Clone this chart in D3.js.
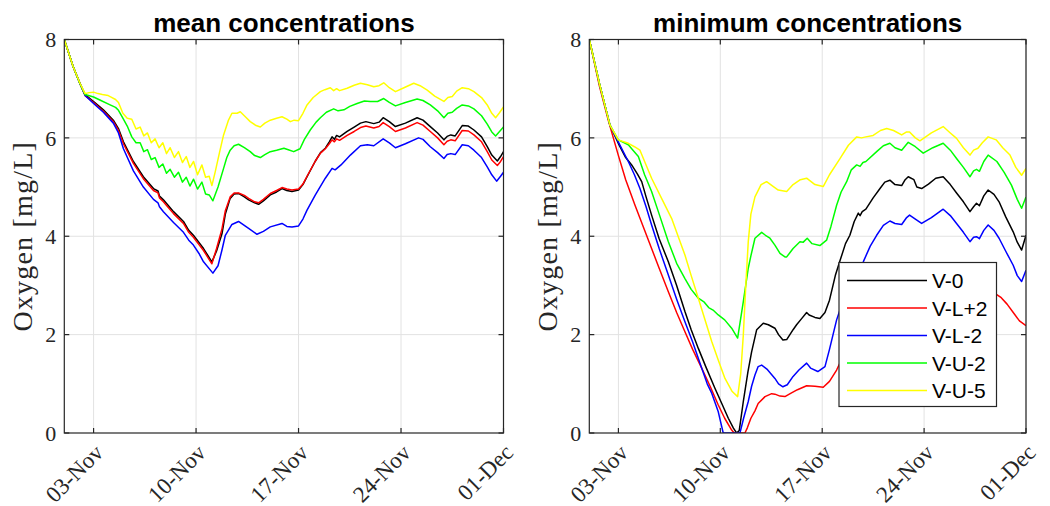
<!DOCTYPE html>
<html>
<head>
<meta charset="utf-8">
<script src="https://cdn.jsdelivr.net/npm/d3@7"></script>
<style>
  html, body { margin: 0; padding: 0; background: #fff; }
  svg { display: block; }
</style>
</head>
<body>
<svg id="chart" width="1050" height="506"></svg>
<script>
// Series as [day since 01-Nov 00:00, oxygen mg/L]
const seriesNames = ["V-0", "V-L+2", "V-L-2", "V-U-2", "V-U-5"];
const seriesColors = ["#000000", "#ff0000", "#0000ff", "#00ff00", "#ffff00"];
const yTicks = [0, 2, 4, 6, 8];
const xTickDays = [2, 9, 16, 23, 30];
const panelTitles = ["mean concentrations", "minimum concentrations"];

// ---- mean concentrations ----
const meanV0 = [[0,8],[0.6,7.45],[1.07,7.11],[1.42,6.88],[2.0,6.74],[2.67,6.57],[3.35,6.36],[3.7,6.19],[4.04,5.92],[4.72,5.52],[5.4,5.21],[6.09,4.97],[6.4,4.92],[6.5,4.82],[6.77,4.74],[7.0,4.66],[7.46,4.5],[8.14,4.3],[8.5,4.12],[8.82,4.02],[9.51,3.75],[10.08,3.48],[10.4,3.7],[10.77,4.05],[11.0,4.45],[11.33,4.77],[11.6,4.86],[11.9,4.87],[12.3,4.8],[12.59,4.74],[13.0,4.68],[13.27,4.65],[13.6,4.72],[14.07,4.84],[14.5,4.9],[14.87,4.97],[15.2,4.93],[15.55,4.91],[16.0,4.94],[16.3,5.05],[16.58,5.21],[17.15,5.53],[17.5,5.7],[17.83,5.79],[18.1,5.92],[18.29,6.02],[18.45,5.97],[18.6,6.05],[18.8,6.02],[19.32,6.13],[19.8,6.22],[20.23,6.3],[20.6,6.33],[21.14,6.29],[21.5,6.32],[21.78,6.41],[22.2,6.33],[22.62,6.23],[23.3,6.3],[24.1,6.41],[24.5,6.36],[25.0,6.23],[25.5,6.1],[25.93,5.96],[26.15,6.03],[26.4,6.06],[26.7,6.04],[27.18,6.25],[27.6,6.24],[27.98,6.16],[28.5,6.02],[28.89,5.82],[29.2,5.65],[29.58,5.53],[29.8,5.62],[30,5.72]];
const meanVL2p = [[0,8],[0.6,7.45],[1.07,7.1],[1.42,6.86],[2.0,6.72],[2.67,6.54],[3.35,6.33],[3.7,6.15],[4.04,5.88],[4.72,5.48],[5.4,5.17],[6.09,4.93],[6.4,4.88],[6.5,4.78],[6.77,4.7],[7.0,4.62],[7.46,4.46],[8.14,4.26],[8.5,4.08],[8.82,3.98],[9.51,3.71],[10.08,3.44],[10.4,3.75],[10.77,4.15],[11.0,4.52],[11.33,4.8],[11.6,4.88],[11.9,4.88],[12.3,4.83],[12.59,4.77],[13.0,4.7],[13.27,4.68],[13.6,4.75],[14.07,4.87],[14.5,4.93],[14.87,4.99],[15.2,4.96],[15.55,4.94],[16.0,4.96],[16.3,5.06],[16.58,5.22],[17.15,5.53],[17.5,5.69],[17.83,5.78],[18.1,5.88],[18.29,5.96],[18.45,5.92],[18.6,5.98],[18.8,5.95],[19.32,6.05],[19.8,6.13],[20.23,6.21],[20.6,6.24],[21.14,6.2],[21.5,6.23],[21.78,6.31],[22.2,6.23],[22.62,6.13],[23.3,6.2],[24.1,6.31],[24.5,6.26],[25.0,6.13],[25.5,6.0],[25.93,5.86],[26.15,5.93],[26.4,5.96],[26.7,5.94],[27.18,6.15],[27.6,6.14],[27.98,6.06],[28.5,5.92],[28.89,5.72],[29.2,5.55],[29.58,5.44],[29.8,5.52],[30,5.62]];
const meanVL2m = [[0,8],[0.6,7.45],[1.07,7.1],[1.42,6.86],[2.0,6.7],[2.67,6.52],[3.35,6.3],[3.7,6.1],[4.04,5.78],[4.72,5.33],[5.4,5.0],[6.09,4.75],[6.4,4.68],[6.5,4.6],[6.77,4.5],[7.46,4.28],[8.14,4.08],[8.5,3.92],[8.82,3.82],[9.2,3.65],[9.51,3.48],[10.15,3.25],[10.5,3.4],[10.77,3.72],[11.0,4.02],[11.45,4.24],[11.9,4.3],[12.59,4.16],[13.16,4.04],[13.6,4.1],[14.07,4.19],[14.87,4.26],[15.2,4.2],[15.55,4.19],[16.0,4.21],[16.3,4.35],[16.58,4.53],[17.15,4.84],[17.83,5.18],[18.29,5.38],[18.5,5.35],[18.9,5.45],[19.54,5.65],[20.23,5.84],[20.7,5.86],[21.14,5.84],[21.78,5.98],[22.2,5.9],[22.62,5.8],[23.3,5.88],[24.2,6.0],[24.5,5.97],[25.0,5.82],[25.5,5.7],[25.93,5.58],[26.15,5.66],[26.4,5.68],[26.7,5.66],[27.18,5.86],[27.6,5.84],[27.98,5.75],[28.5,5.6],[28.89,5.41],[29.2,5.25],[29.53,5.12],[29.8,5.22],[30,5.3]];
const meanVU2 = [[0,8],[0.6,7.45],[1.07,7.1],[1.42,6.88],[2.0,6.83],[2.5,6.76],[3.13,6.67],[3.5,6.62],[3.7,6.56],[4.0,6.4],[4.3,6.24],[4.61,6.02],[4.9,5.9],[5.18,5.9],[5.43,5.72],[5.68,5.76],[5.94,5.56],[6.2,5.6],[6.47,5.4],[6.73,5.47],[6.98,5.28],[7.23,5.36],[7.52,5.2],[7.8,5.3],[8.07,5.1],[8.33,5.2],[8.58,5.02],[8.83,5.16],[9.1,4.96],[9.4,5.1],[9.65,4.86],[9.9,4.84],[10.15,4.72],[10.5,5.0],[10.88,5.38],[11.1,5.6],[11.33,5.75],[11.6,5.84],[11.9,5.87],[12.3,5.8],[12.7,5.72],[13.0,5.64],[13.39,5.6],[13.7,5.66],[14.07,5.72],[14.5,5.75],[15.0,5.79],[15.3,5.76],[15.67,5.72],[16.1,5.78],[16.4,5.97],[16.8,6.16],[17.2,6.32],[17.49,6.41],[17.9,6.52],[18.4,6.59],[18.7,6.55],[19.1,6.57],[19.5,6.64],[20.0,6.7],[20.5,6.75],[20.9,6.74],[21.4,6.74],[21.82,6.8],[22.2,6.72],[22.62,6.65],[23.3,6.72],[24.1,6.79],[24.5,6.76],[25.0,6.67],[25.5,6.55],[25.93,6.41],[26.2,6.5],[26.5,6.52],[26.8,6.6],[27.18,6.67],[27.6,6.65],[27.98,6.59],[28.5,6.45],[28.89,6.28],[29.2,6.12],[29.46,6.04],[29.7,6.12],[30,6.22]];
const meanVU5 = [[0,8],[0.6,7.45],[1.07,7.11],[1.42,6.9],[1.7,6.92],[2.0,6.93],[2.3,6.9],[2.6,6.88],[3.0,6.86],[3.13,6.84],[3.5,6.78],[3.7,6.72],[4.0,6.5],[4.3,6.4],[4.61,6.38],[4.9,6.18],[5.18,6.22],[5.43,6.04],[5.68,6.1],[5.94,5.9],[6.2,5.98],[6.47,5.8],[6.73,5.9],[6.98,5.68],[7.23,5.8],[7.52,5.6],[7.8,5.72],[8.07,5.5],[8.33,5.62],[8.58,5.4],[8.83,5.52],[9.1,5.25],[9.4,5.45],[9.65,5.2],[9.9,5.22],[10.08,5.03],[10.3,5.3],[10.6,5.7],[10.88,6.06],[11.2,6.35],[11.45,6.5],[11.8,6.5],[12.02,6.53],[12.4,6.42],[12.7,6.33],[13.1,6.25],[13.39,6.22],[13.7,6.3],[14.07,6.36],[14.5,6.4],[14.87,6.43],[15.2,6.38],[15.44,6.33],[15.7,6.36],[16.0,6.35],[16.3,6.5],[16.58,6.67],[17.0,6.82],[17.49,6.94],[17.8,6.98],[18.17,7.02],[18.4,6.96],[18.6,7.0],[18.8,6.96],[19.32,7.01],[19.8,7.07],[20.23,7.11],[20.7,7.08],[21.14,7.04],[21.5,7.06],[21.82,7.12],[22.2,7.02],[22.62,6.94],[23.2,7.02],[23.87,7.11],[24.3,7.06],[24.79,6.97],[25.3,6.85],[25.93,6.74],[26.2,6.82],[26.5,6.84],[26.8,6.95],[27.18,7.02],[27.6,7.0],[27.98,6.94],[28.5,6.82],[28.89,6.67],[29.2,6.5],[29.46,6.41],[29.7,6.5],[30,6.63]];

// ---- minimum concentrations ----
const minV0 = [[0,8],[0.7,7.1],[1.42,6.26],[1.99,5.89],[2.5,5.6],[2.91,5.45],[3.3,5.27],[3.6,5.11],[3.9,4.8],[4.28,4.43],[4.8,3.95],[5.43,3.48],[6.0,3.0],[6.57,2.47],[7.0,2.1],[7.49,1.72],[8.0,1.35],[8.63,0.91],[9.1,0.6],[9.55,0.3],[9.9,0.1],[10.12,0],[10.3,0.05],[10.58,0.64],[10.9,1.25],[11.15,1.65],[11.5,2.1],[11.95,2.23],[12.3,2.2],[12.75,2.13],[13.0,2.0],[13.3,1.89],[13.56,1.9],[14.0,2.1],[14.24,2.2],[14.6,2.33],[14.93,2.45],[15.1,2.4],[15.5,2.35],[15.84,2.33],[16.19,2.45],[16.5,2.7],[16.9,3.2],[17.22,3.5],[17.6,3.85],[17.9,4.02],[18.2,4.3],[18.48,4.47],[18.6,4.42],[18.75,4.5],[19.0,4.55],[19.5,4.78],[19.97,4.97],[20.3,5.1],[20.65,5.14],[21.0,5.05],[21.46,5.03],[21.7,5.15],[21.91,5.21],[22.3,5.15],[22.5,5.0],[22.83,4.97],[23.3,5.06],[23.8,5.18],[24.31,5.21],[24.8,5.05],[25.23,4.88],[25.7,4.7],[26.15,4.5],[26.4,4.6],[26.6,4.67],[26.8,4.62],[27.1,4.82],[27.4,4.94],[27.8,4.85],[28.15,4.7],[28.6,4.4],[29.12,4.09],[29.4,3.88],[29.7,3.72],[30,4.02]];
const minVL2p = [[0,8],[0.7,7.05],[1.3,6.36],[1.99,5.65],[2.5,5.15],[3.14,4.63],[3.7,4.2],[4.28,3.75],[4.8,3.35],[5.43,2.87],[6.0,2.45],[6.57,2.06],[7.1,1.7],[7.72,1.32],[8.3,0.95],[8.86,0.57],[9.3,0.3],[9.78,0.06],[9.95,0],[10.69,0],[10.85,0.1],[11.1,0.3],[11.38,0.45],[11.6,0.6],[12.07,0.74],[12.53,0.8],[12.75,0.79],[13.1,0.75],[13.44,0.74],[13.8,0.8],[14.3,0.88],[14.93,0.96],[15.5,0.95],[16.07,0.93],[16.5,1.05],[16.99,1.28],[17.5,1.6],[18.0,1.85],[19.0,2.1],[20.0,2.35],[21.0,2.5],[22.0,2.6],[23.0,2.55],[24.0,2.75],[25.0,2.7],[26.0,2.6],[27.0,2.75],[27.86,2.84],[28.3,2.75],[28.7,2.62],[29.2,2.42],[29.55,2.28],[30,2.18]];
const minVL2m = [[0,8],[0.7,7.1],[1.42,6.26],[1.99,5.92],[2.68,5.52],[3.1,5.25],[3.48,4.97],[3.9,4.6],[4.28,4.23],[4.8,3.75],[5.43,3.21],[6.0,2.72],[6.57,2.26],[7.1,1.85],[7.72,1.32],[8.1,1.0],[8.41,0.81],[8.86,0.43],[9.2,0],[10.35,0],[10.6,0.3],[10.92,0.64],[11.15,0.95],[11.38,1.18],[11.6,1.35],[11.84,1.38],[12.2,1.3],[12.75,1.11],[13.0,1.0],[13.3,0.94],[13.6,0.98],[14.0,1.15],[14.4,1.28],[14.93,1.42],[15.2,1.32],[15.7,1.25],[16.19,1.35],[16.5,1.7],[16.99,2.3],[17.5,2.75],[18.0,3.1],[18.4,3.3],[18.82,3.48],[19.3,3.8],[19.74,4.02],[20.2,4.22],[20.65,4.31],[21.0,4.26],[21.46,4.24],[21.8,4.38],[22.0,4.43],[22.4,4.35],[22.83,4.26],[23.5,4.38],[24.31,4.55],[24.8,4.42],[25.23,4.26],[25.7,4.08],[26.15,3.89],[26.4,3.98],[26.6,3.99],[26.8,3.95],[27.1,4.12],[27.4,4.23],[27.8,4.12],[28.15,3.96],[28.6,3.7],[29.12,3.41],[29.4,3.2],[29.7,3.08],[30,3.31]];
const minVU2 = [[0,8],[0.7,7.1],[1.42,6.26],[1.99,5.96],[2.68,5.86],[3.0,5.75],[3.37,5.62],[3.8,5.25],[4.28,4.91],[4.8,4.45],[5.43,3.89],[6.0,3.45],[6.57,3.14],[7.0,2.92],[7.49,2.74],[7.9,2.66],[8.2,2.55],[8.5,2.5],[8.86,2.4],[9.3,2.3],[9.78,2.13],[10.19,1.93],[10.58,2.67],[10.92,3.35],[11.1,3.6],[11.38,3.96],[11.84,4.08],[12.1,4.02],[12.41,3.96],[12.75,3.82],[13.1,3.65],[13.44,3.58],[13.56,3.58],[14.0,3.75],[14.47,3.89],[14.7,3.88],[14.97,3.96],[15.3,3.85],[15.84,3.81],[16.3,3.92],[16.6,4.2],[16.99,4.63],[17.3,4.9],[17.68,5.11],[18.0,5.35],[18.37,5.45],[18.6,5.42],[18.8,5.5],[19.0,5.52],[19.74,5.72],[20.2,5.84],[20.65,5.89],[21.0,5.8],[21.46,5.75],[21.91,5.91],[22.4,5.82],[22.94,5.69],[23.6,5.8],[24.31,5.89],[24.8,5.75],[25.23,5.58],[25.7,5.4],[26.15,5.21],[26.4,5.33],[26.6,5.36],[26.8,5.32],[27.1,5.52],[27.4,5.65],[28.0,5.52],[28.5,5.3],[29.0,5.04],[29.4,4.75],[29.7,4.57],[30,4.8]];
const minVU5 = [[0,8],[0.7,7.1],[1.42,6.26],[1.99,5.96],[2.68,5.89],[3.1,5.82],[3.48,5.75],[3.9,5.45],[4.28,5.18],[5.0,4.75],[5.66,4.36],[6.1,4.0],[6.57,3.62],[7.0,3.2],[7.49,2.74],[8.0,2.25],[8.41,1.86],[8.9,1.45],[9.32,1.11],[9.8,0.85],[10.19,0.74],[10.4,1.2],[10.58,1.99],[10.75,3.0],[10.92,3.89],[11.1,4.45],[11.38,4.8],[11.8,5.05],[12.18,5.11],[12.6,5.02],[12.98,4.94],[13.56,4.91],[14.0,5.05],[14.5,5.15],[14.93,5.18],[15.5,5.05],[16.07,5.01],[16.5,5.25],[17.22,5.58],[17.8,5.85],[18.37,6.02],[18.7,6.0],[19.0,6.02],[19.5,6.05],[20.0,6.15],[20.43,6.19],[20.9,6.15],[21.46,6.06],[21.8,6.12],[22.0,6.12],[22.4,6.0],[22.71,5.94],[23.5,6.1],[24.31,6.23],[24.8,6.1],[25.23,5.99],[25.7,5.8],[26.15,5.65],[26.4,5.75],[26.7,5.79],[27.0,5.9],[27.4,6.02],[27.95,5.96],[28.4,5.8],[28.9,5.65],[29.3,5.4],[29.7,5.24],[30,5.38]];

const meanSeries = [meanV0, meanVL2p, meanVL2m, meanVU2, meanVU5];
const minSeries = [minV0, minVL2p, minVL2m, minVU2, minVU5];

// ---- layout ----
const svg = d3.select("#chart");
const startDate = new Date(2021, 10, 1);
const dayMs = 24 * 3600 * 1000;
const toDate = d => new Date(startDate.getTime() + d * dayMs);
const endDate = toDate(30);

const plotTop = 39.5, plotBottom = 433;
const panels = [
  { x0: 64.3, x1: 503.5, title: panelTitles[0], series: meanSeries, legend: false },
  { x0: 589.3, x1: 1026, title: panelTitles[1], series: minSeries, legend: true }
];

const axisColor = "#262626";
const gridColor = "#e2e2e2";
const serif = "'Liberation Serif', 'DejaVu Serif', serif";
const sans = "'Liberation Sans', Arial, sans-serif";

panels.forEach((p, pi) => {
  const x = d3.scaleTime().domain([startDate, endDate]).range([p.x0, p.x1]);
  const y = d3.scaleLinear().domain([0, 8]).range([plotBottom, plotTop]);
  const g = svg.append("g");

  const clipId = "clip" + pi;
  svg.append("defs").append("clipPath").attr("id", clipId)
    .append("rect").attr("x", p.x0).attr("y", plotTop - 1)
    .attr("width", p.x1 - p.x0).attr("height", plotBottom - plotTop + 1);

  // grid
  const xTickDates = xTickDays.map(toDate);
  g.append("g").selectAll("line").data(xTickDates).join("line")
    .attr("x1", d => x(d)).attr("x2", d => x(d))
    .attr("y1", plotTop).attr("y2", plotBottom)
    .attr("stroke", gridColor).attr("stroke-width", 1);
  g.append("g").selectAll("line").data(yTicks.filter(v => v > 0 && v < 8)).join("line")
    .attr("x1", p.x0).attr("x2", p.x1)
    .attr("y1", d => y(d)).attr("y2", d => y(d))
    .attr("stroke", gridColor).attr("stroke-width", 1);

  // series
  const line = d3.line().x(d => x(toDate(d[0]))).y(d => y(d[1])).curve(d3.curveLinear);
  g.append("g").attr("clip-path", `url(#${clipId})`)
    .selectAll("path").data(p.series).join("path")
    .attr("d", d => line(d))
    .attr("fill", "none")
    .attr("stroke", (d, i) => seriesColors[i])
    .attr("stroke-width", 1.5)
    .attr("stroke-linejoin", "round");

  // box and inward ticks on all sides
  const tickLen = 5;
  const axisG = g.append("g");
  axisG.append("rect").attr("x", p.x0).attr("y", plotTop)
    .attr("width", p.x1 - p.x0).attr("height", plotBottom - plotTop)
    .attr("fill", "none").attr("stroke", axisColor).attr("stroke-width", 1.2);
  xTickDates.forEach(d => {
    axisG.append("line").attr("x1", x(d)).attr("x2", x(d)).attr("y1", plotBottom).attr("y2", plotBottom - tickLen)
      .attr("stroke", axisColor).attr("stroke-width", 1.2);
    axisG.append("line").attr("x1", x(d)).attr("x2", x(d)).attr("y1", plotTop).attr("y2", plotTop + tickLen)
      .attr("stroke", axisColor).attr("stroke-width", 1.2);
  });
  yTicks.forEach(v => {
    axisG.append("line").attr("x1", p.x0).attr("x2", p.x0 + tickLen).attr("y1", y(v)).attr("y2", y(v))
      .attr("stroke", axisColor).attr("stroke-width", 1.2);
    axisG.append("line").attr("x1", p.x1).attr("x2", p.x1 - tickLen).attr("y1", y(v)).attr("y2", y(v))
      .attr("stroke", axisColor).attr("stroke-width", 1.2);
  });

  // tick labels
  const fmt = d3.timeFormat("%d-%b");
  g.append("g").selectAll("text").data(yTicks).join("text")
    .attr("x", p.x0 - 8).attr("y", d => y(d))
    .attr("dy", "0.35em")
    .attr("text-anchor", "end")
    .attr("font-family", serif).attr("font-size", 22)
    .attr("fill", axisColor)
    .text(d => d);
  g.append("g").selectAll("text").data(xTickDates).join("text")
    .attr("transform", d => `translate(${x(d) + 11},${plotBottom + 21}) rotate(-45)`)
    .attr("text-anchor", "end")
    .attr("font-family", serif).attr("font-size", 23)
    .attr("fill", axisColor)
    .text(d => fmt(d));

  // axis label
  g.append("text")
    .attr("transform", `translate(${p.x0 - 32},${(plotTop + plotBottom) / 2}) rotate(-90)`)
    .attr("text-anchor", "middle")
    .attr("font-family", serif).attr("font-size", 28)
    .attr("letter-spacing", 1.2)
    .attr("fill", axisColor)
    .text("Oxygen [mg/L]");

  // title
  g.append("text")
    .attr("x", (p.x0 + p.x1) / 2).attr("y", 32)
    .attr("text-anchor", "middle")
    .attr("font-family", sans).attr("font-weight", "bold").attr("font-size", 26)
    .attr("fill", "#000")
    .text(p.title);

  // legend
  if (p.legend) {
    const lx = 839, ly = 262.5, lw = 157.5, lh = 144, rowH = 27.5;
    const lg = g.append("g");
    lg.append("rect").attr("x", lx).attr("y", ly).attr("width", lw).attr("height", lh)
      .attr("fill", "#fff").attr("stroke", axisColor).attr("stroke-width", 1.2);
    seriesNames.forEach((name, i) => {
      const cy = ly + 18 + i * rowH;
      lg.append("line").attr("x1", lx + 8).attr("x2", lx + 88).attr("y1", cy).attr("y2", cy)
        .attr("stroke", seriesColors[i]).attr("stroke-width", 1.5);
      lg.append("text").attr("x", lx + 93).attr("y", cy).attr("dy", "0.36em")
        .attr("font-family", sans).attr("font-size", 21).attr("fill", "#000")
        .text(name);
    });
  }
});
</script>
</body>
</html>
